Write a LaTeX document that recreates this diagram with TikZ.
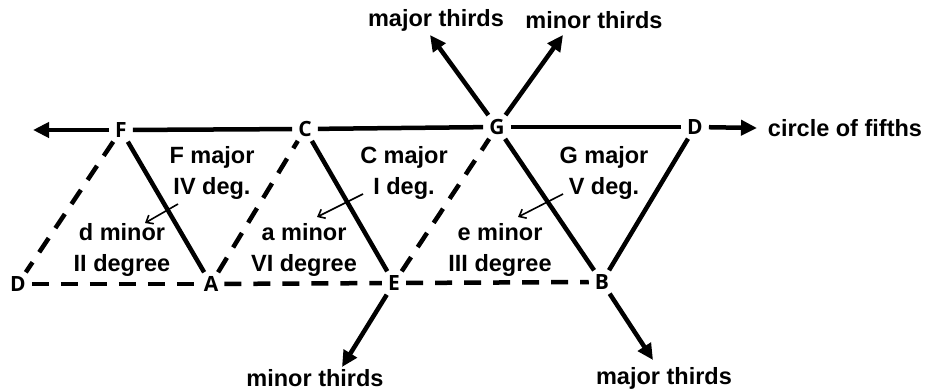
\documentclass[tikz,border=0pt]{standalone}
\usepackage{fontspec}
\setmainfont{Liberation Sans}
\newfontfamily\notefont{Open Sans}
\usetikzlibrary{arrows.meta}
\begin{document}
\begin{tikzpicture}[x=1pt,y=-1pt,
  lbl/.style={font=\bfseries\fontsize{23.5}{31}\selectfont, align=center, inner sep=0pt},
  note/.style={font=\notefont\bfseries\fontsize{21}{24}\selectfont, inner xsep=6pt, inner ysep=4pt},
  solidl/.style={line width=4.5pt},
  dashl/.style={line width=4.5pt, dash pattern=on 17pt off 12pt},
  bigarrow/.style={line width=4.5pt, -{Triangle[length=16pt,width=15pt]}},
  smallarrow/.style={line width=1.6pt, -{Straight Barb[length=6pt,width=10pt]}}]
\useasboundingbox (0,0) rectangle (926,391);
% note names
\node[note] (F) at (121,130) {F};
\node[note] (C) at (305,129) {C};
\node[note] (G) at (497,127) {G};
\node[note] (Dt) at (695,127) {D};
\node[note] (Db) at (18,284) {D};
\node[note] (A) at (211,284) {A};
\node[note] (E) at (394,283) {E};
\node[note] (B) at (602,282) {B};
% free ends
\coordinate (lefttip) at (33,130);
\coordinate (righttip) at (757,128);
\coordinate (gl) at (430,35);
\coordinate (gr) at (563,35);
\coordinate (el) at (342,367);
\coordinate (br) at (653,360);
% top line
\draw[solidl] (F) -- (C);
\draw[solidl] (C) -- (G);
\draw[solidl] (G) -- (Dt);
\draw[bigarrow] (F) -- (lefttip);
\draw[bigarrow] (Dt) -- (righttip);
% bottom line
\draw[dashl] (Db) -- (A);
\draw[dashl] (A) -- (E);
\draw[dashl] (E) -- (B);
% diagonals
\draw[dashl] (F) -- (Db);
\draw[solidl] (F) -- (A);
\draw[dashl] (A) -- (C);
\draw[solidl] (C) -- (E);
\draw[dashl] (E) -- (G);
\draw[solidl] (G) -- (B);
\draw[solidl] (B) -- (Dt);
% thirds arrows
\draw[bigarrow] (G) -- (gl);
\draw[bigarrow] (G) -- (gr);
\draw[bigarrow] (E) -- (el);
\draw[bigarrow] (B) -- (br);
% outer labels
\node[lbl] (cof) at (845,128) {circle of fifths};
\node[lbl] (mjt1) at (436,20) {major thirds};
\node[lbl] (mnt1) at (594,20) {minor thirds};
\node[lbl] (mnt2) at (315,378) {minor thirds};
\node[lbl] (mjt2) at (664,378) {major thirds};
% chord labels
\node[lbl] (Fmaj) at (212,173) {F major\\IV deg.};
\node[lbl] (dmin) at (122,250) {d minor\\II degree};
\node[lbl] (Cmaj) at (404,173) {C major\\I deg.};
\node[lbl] (amin) at (304,250) {a minor\\VI degree};
\node[lbl] (Gmaj) at (604,173) {G major\\V deg.};
\node[lbl] (emin) at (500,250) {e minor\\III degree};
% relative arrows
\coordinate (f1) at (178,204); \coordinate (f2) at (145,223);
\coordinate (c1) at (363,194); \coordinate (c2) at (317,217);
\coordinate (g1) at (563,194); \coordinate (g2) at (518,217);
\draw[smallarrow] (f1) -- (f2);
\draw[smallarrow] (c1) -- (c2);
\draw[smallarrow] (g1) -- (g2);
\end{tikzpicture}
\end{document}
